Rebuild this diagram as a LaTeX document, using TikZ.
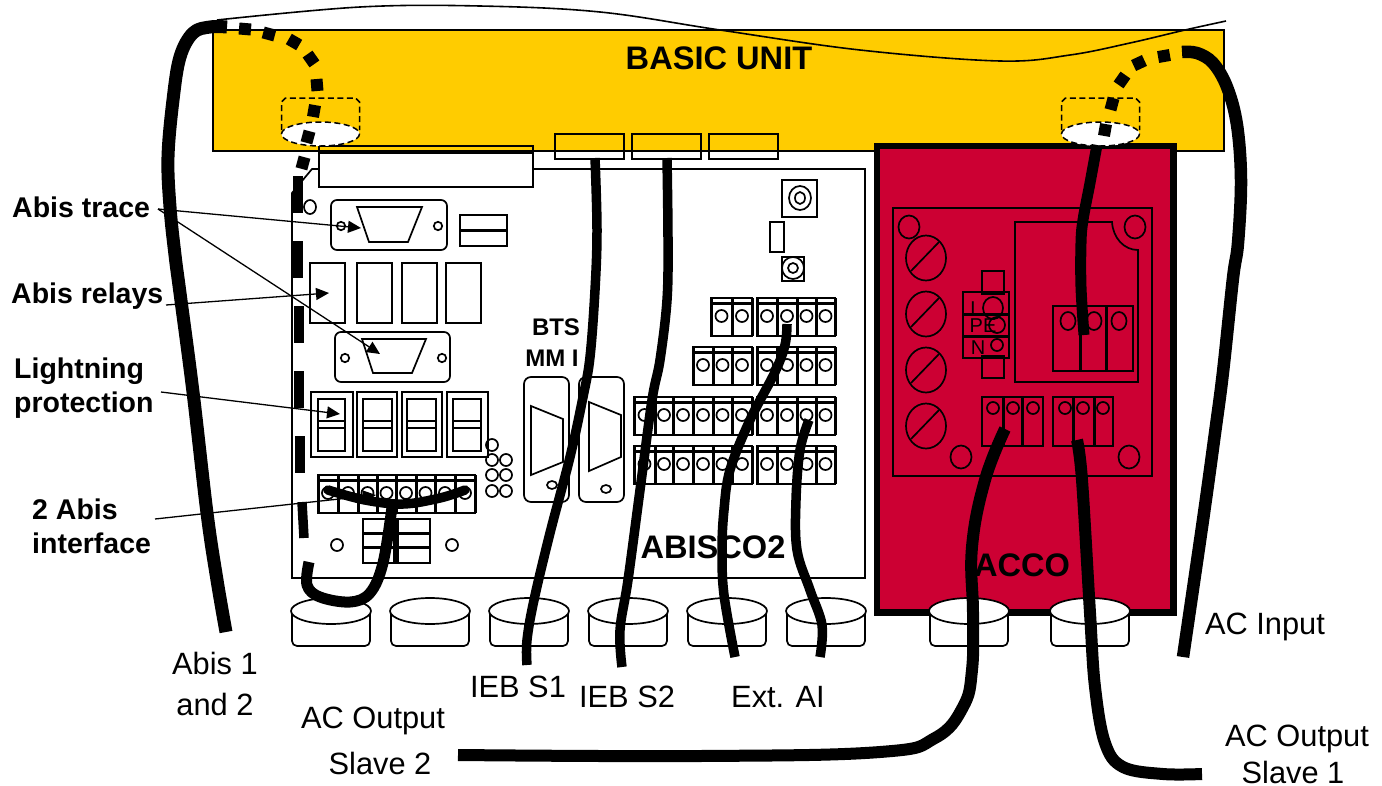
\documentclass[tikz,border=0pt]{standalone}
\usepackage{fontspec}
\setmainfont{Liberation Sans}
\usetikzlibrary{arrows.meta}
\definecolor{unityellow}{HTML}{FFCC00}
\definecolor{accored}{HTML}{CC0033}
\tikzset{
  part/.style={draw=black,line width=1.7pt},
  heavy/.style={draw=black,line width=3pt},
  cable/.style={draw=black,line width=11pt,line cap=butt,line join=round},
  midcable/.style={draw=black,line width=9.5pt,line cap=butt,line join=round},
  thinwire/.style={draw=black,line width=1.6pt},
  lead/.style={draw=black,line width=1.3pt},
  leadarrow/.style={lead,-{Triangle[length=13pt,width=12pt]}},
  lbl/.style={font=\fontsize{30.8}{34}\selectfont,inner sep=0pt},
  blbl/.style={font=\fontsize{28.5}{34}\selectfont\bfseries,inner sep=0pt,align=left},
  title/.style={font=\fontsize{32.6}{36}\selectfont\bfseries,inner sep=0pt},
  small/.style={font=\fontsize{20}{24}\selectfont,inner sep=0pt},
  bts/.style={font=\fontsize{24}{30}\selectfont\bfseries,inner sep=0pt}
}
\newcommand{\termcell}[3]{%
  \draw[part] (#1,#3) rectangle (#2,#3+38);
  \draw[heavy] (#1,#3) -- (#1,#3+38) (#2,#3) -- (#2,#3+38);
  \draw[heavy] (#1,#3+5.5) -- (#2,#3+5.5);
  \draw[part] ({(#1+#2)/2},#3+18) circle[radius=6];
}
\newcommand{\gland}[1]{%
  \draw[part,fill=white,rounded corners=5pt] (#1-39,611) -- (#1-39,646) -- (#1+39,646) -- (#1+39,611);
  \draw[part,fill=white] (#1,611) ellipse[x radius=40,y radius=13];
}
\newcommand{\screw}[1]{%
  \draw[part] (926,#1) ellipse[x radius=20,y radius=22.5];
  \draw[part] (911,#1+13) -- (939,#1-16);
}
\begin{document}
\begin{tikzpicture}[x=1pt,y=-1pt]
\useasboundingbox (0,0) rectangle (1382,785);

% basic unit
\draw[part,fill=unityellow] (213,30) rectangle (1224,151);
\node[title] (basic) at (719,58) {BASIC UNIT};

% top connectors
\draw[part] (555,134) rectangle (624,159);
\draw[part] (632,134) rectangle (701,159);
\draw[part] (709,134) rectangle (778,159);

% ABISCO2 board
\draw[part] (533,169) -- (865,169) -- (865,578) -- (292,578) -- (292,193) -- (312,169) -- (319,169);
\draw[part] (319,146) rectangle (533,187);
\draw[draw=black,line width=2.6pt] (319,153) -- (533,153);
\node[title] (abisco) at (713,547) {ABISCO2};

% D connector 1
\draw[part] (310,207) ellipse[x radius=6,y radius=7];
\draw[part,rounded corners=6pt] (331,200) rectangle (447,250);
\draw[part] (357,207) -- (422,207) -- (408,242) -- (369,242) -- cycle;
\draw[part] (341,226) circle[radius=4.2];
\draw[part] (438,226) circle[radius=4.2];
\draw[part] (460,215) rectangle (507,246);
\draw[draw=black,line width=3pt] (460,230) -- (507,230);

% relays
\foreach \a/\b in {310/345,357/392,402/437,446/481}
  {\draw[part] (\a,263) rectangle (\b,323);}

% D connector 2
\draw[part,rounded corners=6pt] (335,332) rectangle (450,382);
\draw[part] (362,339) -- (426,339) -- (412,373) -- (373,373) -- cycle;
\draw[part] (345,358) circle[radius=4.2];
\draw[part] (442,358) circle[radius=4.2];

% lightning protection
\foreach \a/\b/\c/\d in {311/353/318/345,357/397/363/392,402/442/407/436,447/488/453/481}{
  \draw[part] (\a,392) rectangle (\b,457);
  \draw[part] (\c,399) rectangle (\d,451);
  \draw[draw=black,line width=2.4pt] (\c,421) -- (\d,421) (\c,428) -- (\d,428);
}
\foreach \x/\y in {492/445,492/460,506/460,492/475,506/475,492/491,506/491}
  {\draw[part] (\x,\y) circle[radius=6];}

% BTS MMI
\node[bts] (bts) at (556,327) {BTS};
\node[bts] (mmi) at (552,358) {MM I};
\draw[part,rounded corners=7pt] (524,377) rectangle (569,502);
\draw[part] (531,406) -- (563,419) -- (563,462) -- (531,475) -- cycle;
\draw[part] (552,485) ellipse[x radius=5,y radius=4];
\draw[part,rounded corners=7pt] (579,377) rectangle (624,502);
\draw[part] (589,402) -- (621,415) -- (621,457) -- (589,471) -- cycle;
\draw[part] (606,489) ellipse[x radius=5,y radius=4];

% abis interface terminals
\foreach \a/\b in {318/338,338/358,358/377,377/396,396/416,416/435,435/455,455/475}
  {\termcell{\a}{\b}{475}}
\draw[part] (363,519) rectangle (430,563);
\draw[heavy] (394,519) -- (394,563) (397,519) -- (397,563);
\draw[heavy] (363,533) -- (430,533) (363,547) -- (430,547);
\draw[part] (337,545) circle[radius=6];
\draw[part] (452,545) circle[radius=6];

% terminals, right part of board
\foreach \a/\b in {711/732,732/752,757/777,777/797,797/816,816/835}
  {\termcell{\a}{\b}{298}}
\foreach \a/\b in {693/713,713/732,732/752,757/777,777/797,797/816,816/835}
  {\termcell{\a}{\b}{347}}
\foreach \y in {397,446}{
  \foreach \a/\b in {634/655,655/673,673/693,693/713,713/732,732/752,757/777,777/797,797/816,816/835}
    {\termcell{\a}{\b}{\y}}
}

% top right parts of board
\draw[part] (782,180) rectangle (817,217);
\draw[part] (800,198) ellipse[x radius=11,y radius=12];
\draw[part] (800,198) ellipse[x radius=5,y radius=6];
\draw[part] (770,222) rectangle (784,252);
\draw[part] (782,257) rectangle (804,281);
\draw[part] (793,268) circle[radius=11];
\draw[part] (793,268) circle[radius=5];

% ACCO
\draw[draw=black,fill=accored,line width=6.5pt] (877,146) rectangle (1173.5,612.5);
\node[title] (acco) at (1022,565) {ACCO};
\draw[part] (893,208) rectangle (1152,476);
\foreach \x/\y in {909/227,1135/227,961/457,1129/457}
  {\draw[part] (\x,\y) ellipse[x radius=10.5,y radius=11.5];}
\screw{258}\screw{314}\screw{370}\screw{426}
\draw[part] (1015,222) -- (1112,222) .. controls (1113,238) and (1124,250) .. (1138,250) -- (1138,382) -- (1015,382) -- cycle;
\draw[part] (1053,306) rectangle (1133,371);
\draw[heavy] (1080,306) -- (1080,371) (1106,306) -- (1106,371);
\foreach \x in {1068,1094,1119}
  {\draw[part] (\x,321) ellipse[x radius=7.5,y radius=9];}
\draw[part] (982,271) rectangle (1004,294);
\draw[part] (982,356) rectangle (1004,378);
\draw[part] (963,292) rectangle (1009,314);
\draw[part] (963,315) rectangle (1009,336);
\draw[part] (963,337) rectangle (1009,358);
\draw[part] (993,308) ellipse[x radius=10,y radius=11];
\draw[part] (997,325) circle[radius=8];
\draw[part] (997,345) circle[radius=6];
\node[small] (lL) at (976,309) {L};
\node[small] (lPE) at (983,326) {PE};
\node[small] (lN) at (978,348) {N};
\foreach \a/\b/\c in {982/1003/993,1003/1022/1013,1022/1043/1033,1053/1073/1065,1073/1094/1083,1094/1113/1103}{
  \draw[part] (\a,397) rectangle (\b,446);
  \draw[part] (\c,408) circle[radius=6];
}
\draw[heavy] (1003,397) -- (1003,446) (1022,397) -- (1022,446) (1073,397) -- (1073,446) (1094,397) -- (1094,446);

% glands
\gland{331}\gland{430}\gland{529}\gland{628}\gland{727}\gland{826}\gland{969}\gland{1090}

% dashed openings of the basic unit
\foreach \cx in {320.5,1100.5}{
  \draw[draw=black,line width=1.5pt,dash pattern=on 6pt off 3.5pt,fill=white] (\cx,134) ellipse[x radius=39,y radius=12];
  \draw[draw=black,line width=1.5pt,dash pattern=on 6pt off 3.5pt] (\cx-39,130) -- (\cx-39,102) -- (\cx-35,98) -- (\cx+35,98) -- (\cx+39,102) -- (\cx+39,130);
}

% thin wire on top
\coordinate (wireA) at (217,20);
\coordinate (wireB) at (1226,21);
\draw[thinwire] plot[smooth,tension=0.6] coordinates {(wireA) (360,7) (480,6) (600,12) (720,30) (860,50) (1000,61) (1070,55) (1130,43) (1185,30) (wireB)};

% Abis cable
\draw[cable,line width=13pt] plot[smooth,tension=0.6] coordinates {(226,632) (217,580) (207,513) (193,392) (180,293) (175,255) (170,207) (168,157) (173,100) (180,57) (193,33) (210,27) (227,27)};
\foreach \x/\y/\a in {245/29/5,269/34/15,294/42/30,311/59/55,317/85/85,314/111/100,308/137/105,303/163/105}
  {\draw[cable,line width=12pt] (\x,\y) ++(\a:6) -- ++(\a+180:12);}
\draw[midcable] (298,176) -- (298,213);
\draw[midcable] (298,241) -- (298,278);
\draw[midcable] (299,306) -- (299,343);
\draw[midcable] (299,371) -- (299,408);
\draw[midcable] (300,436) -- (300,473);
\draw[midcable] (302,502) -- (304,538);
\draw[cable] plot[smooth,tension=0.6] coordinates {(309,562) (307,585) (320,597) (350,602) (370,593) (383,563) (392,507)};
\draw[midcable,line cap=round] plot[smooth,tension=0.6] coordinates {(328,490) (365,500) (403,504) (440,498) (465,490)};

% data cables
\draw[midcable] plot[smooth,tension=0.6] coordinates {(595,158) (597,230) (595,290) (590,357) (583,397) (570,457) (550,533) (534,600) (527,640) (527,665)};
\draw[midcable] plot[smooth,tension=0.6] coordinates {(667,158) (668,240) (667,300) (660,360) (652,400) (640,490) (628,580) (620,630) (622,667)};
\draw[midcable] plot[smooth,tension=0.6] coordinates {(787,324) (785,345) (775,372) (750,420) (730,470) (724,510) (722,550) (724,595) (735,657)};
\draw[midcable] plot[smooth,tension=0.6] coordinates {(809,420) (800,450) (796,500) (797,550) (810,590) (822,625) (820,657)};

% AC input cable
\draw[cable,line width=12.5pt] plot[smooth,tension=0.6] coordinates {(1183,657) (1203,520) (1215,433) (1223,372) (1233,278) (1238,243) (1241,180) (1237,125) (1227,87) (1213,63) (1197,53) (1182,52)};
\foreach \x/\y/\a in {1164/56/-10,1139/63/-25,1122/80/-55,1112/104/-75,1105/130/-80}
  {\draw[cable,line width=12pt] (\x,\y) ++(\a:6) -- ++(\a+180:12);}
\draw[cable] plot[smooth,tension=0.6] coordinates {(1097,145) (1090,183) (1083,220) (1081,243) (1081,287) (1084,335)};

% AC outputs
\draw[cable,line width=12pt] plot[smooth,tension=0.7] coordinates {(1005,429) (985,480) (972,547) (973,613) (972,670) (963,707) (935,738) (880,752) (700,756) (458,755)};
\draw[cable,line width=12pt] plot[smooth,tension=0.6] coordinates {(1077,440) (1082,480) (1090,613) (1095,687) (1105,743) (1123,767) (1163,774) (1202,774)};

% left labels and leaders
\node[blbl,anchor=west] (ltrace) at (12,207) {Abis trace};
\node[blbl,anchor=west] (lrelays) at (11,296) {Abis relays};
\node[blbl,anchor=west] (lprot) at (14,388) {Lightning\\protection};
\node[blbl,anchor=west] (labis) at (32,526) {2 Abis\\interface};
\coordinate (s1) at (158,209);
\coordinate (t1) at (361,228);
\coordinate (t2) at (380,354);
\coordinate (s3) at (166,305);
\coordinate (t3) at (329,293);
\coordinate (s4) at (161,392);
\coordinate (t4) at (340,414);
\coordinate (s5) at (155,519);
\coordinate (t5) at (376,495);
\draw[leadarrow] (s1) -- (t1);
\draw[leadarrow] (s1) -- (t2);
\draw[leadarrow] (s3) -- (t3);
\draw[leadarrow] (s4) -- (t4);
\draw[leadarrow] (s5) -- (t5);

% bottom labels
\node[lbl] (a1) at (215,663) {Abis 1};
\node[lbl] (a2) at (215,704) {and 2};
\node[lbl] (o2a) at (373,721) {AC Output};
\node[lbl] (o2b) at (380,763) {Slave 2};
\node[lbl] (ieb1) at (518,687) {IEB S1};
\node[lbl] (ieb2) at (627,697) {IEB S2};
\node[lbl] (ext) at (778,697) {Ext. AI};
\node[lbl] (acin) at (1265,627) {AC Input};
\node[lbl] (o1a) at (1297,739) {AC Output};
\node[lbl] (o1b) at (1293,772) {Slave 1};
\end{tikzpicture}
\end{document}
